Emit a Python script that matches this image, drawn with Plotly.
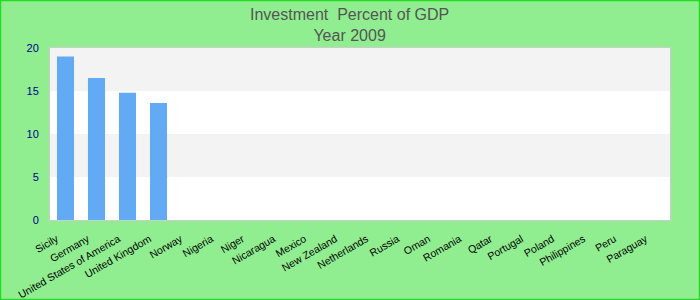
import plotly.graph_objects as go

categories = ["Sicily", "Germany", "United States of America", "United Kingdom", "Norway",
              "Nigeria", "Niger", "Nicaragua", "Mexico", "New Zealand", "Netherlands",
              "Russia", "Oman", "Romania", "Qatar", "Portugal", "Poland", "Philippines",
              "Peru", "Paraguay"]
values = [19.0, 16.5, 14.8, 13.6] + [None] * 16
y_ticks = [0, 5, 10, 15, 20]

W, H = 700, 300
ml, mr, mt, mb = 50, 30, 48, 80
pw, ph = W - ml - mr, H - mt - mb

fig = go.Figure()
fig.add_trace(go.Bar(x=categories, y=values, marker=dict(color="#63aaf5", line=dict(width=0)),
                     width=0.55))

shapes = []
for lo, hi in [(15, 20), (5, 10)]:
    shapes.append(dict(type="rect", xref="paper", yref="y", x0=0, x1=1, y0=lo, y1=hi,
                       fillcolor="#f3f3f3", line=dict(width=0), layer="below"))
# outer green border
shapes.append(dict(type="rect", xref="paper", yref="paper",
                   x0=(-ml + 0.5) / pw, x1=(pw + mr - 0.5) / pw,
                   y0=(-mb + 0.5) / ph, y1=(ph + mt - 0.5) / ph,
                   line=dict(color="#22dd22", width=1.5), fillcolor="rgba(0,0,0,0)"))

fig.update_layout(
    width=W, height=H,
    margin=dict(l=ml, r=mr, t=mt, b=mb, autoexpand=False),
    paper_bgcolor="#90ee90", plot_bgcolor="white",
    showlegend=False,
    shapes=shapes,
    annotations=[dict(text="Investment  Percent of GDP<br>Year 2009", xref="paper", yref="paper",
                      x=(349 - ml) / pw, y=(ph + mt - 4) / ph, xanchor="center", yanchor="top",
                      showarrow=False, align="center",
                      font=dict(family="Liberation Sans, Arial", size=16, color="#555555"))],
    font=dict(family="Liberation Sans, Arial", size=11),
    bargap=0.45,
)
fig.update_xaxes(tickangle=-30, tickfont=dict(color="black", size=10.5), showgrid=False,
                 showline=True, linecolor="#cccccc", mirror=True, ticks="", zeroline=False,
                 automargin=False, ticklabelshift=-9, ticklabelstandoff=8)
fig.update_yaxes(range=[0, 20], tickvals=y_ticks, tickfont=dict(color="#00008b", size=11),
                 showgrid=False, showline=True, linecolor="#cccccc", mirror=True,
                 zeroline=False, ticks="outside", ticklen=8, tickcolor="rgba(0,0,0,0)",
                 automargin=False)

fig.write_html("out.html")
